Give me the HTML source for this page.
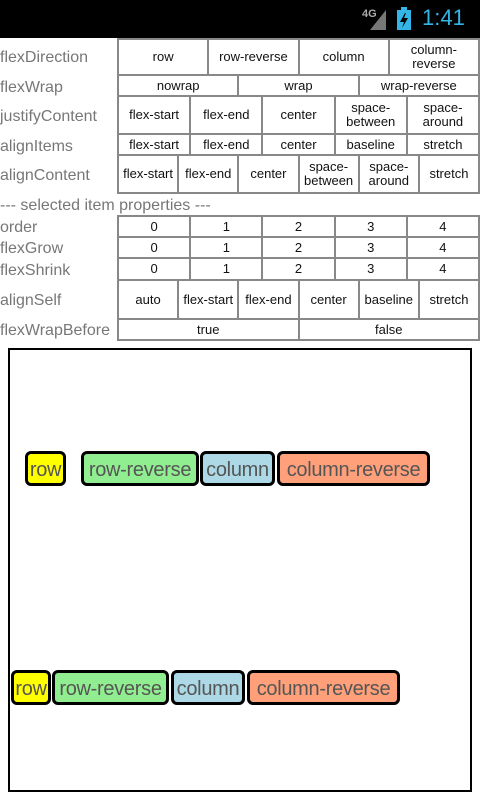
<!DOCTYPE html>
<html><head><meta charset="utf-8"><style>
*{margin:0;padding:0;box-sizing:border-box}
body{width:480px;height:800px;background:#fff;position:relative;overflow:hidden;font-family:"Liberation Sans",sans-serif}
.bar{position:absolute;left:0;top:0;width:480px;height:38px;background:#000}
.lbl{position:absolute;left:0;font-size:16px;color:#777;line-height:20px}
.row{position:absolute;left:117px;width:363px;background:#888;padding:2px;display:flex;gap:2px}
.row div{flex:1;background:#fff;display:flex;align-items:center;justify-content:center;text-align:center;font-size:13px;line-height:14px;color:#111}
.box{position:absolute;left:8px;top:348px;width:464px;height:444px;border:2px solid #000}
.it{position:absolute;height:35px;border:3px solid #000;border-radius:6px;font-size:20px;line-height:32px;color:#555;white-space:nowrap;overflow:hidden;text-align:center;letter-spacing:-0.3px}
</style></head><body>
<div class="bar">
<div style="position:absolute;left:362px;top:8px;color:#aaa;font-size:11px;font-weight:bold">4G</div>
<svg style="position:absolute;left:370px;top:10px" width="16" height="20"><polygon points="16,0 16,20 0,20" fill="#777"/></svg>
<svg style="position:absolute;left:397px;top:7px" width="14" height="23"><rect x="4" y="0" width="6" height="3" fill="#33b5e5"/><rect x="0" y="3" width="14" height="20" fill="#33b5e5"/><polygon points="8,6 3,15 7,15 5,21 11,11 7,11 9,6" fill="#000"/></svg>
<div style="position:absolute;left:422px;top:5px;color:#33b5e5;font-size:22px">1:41</div>
</div>

<div class="lbl" style="top:48px">flexDirection</div>
<div class="row" style="top:38px;height:38px"><div>row</div><div>row-reverse</div><div>column</div><div>column-<br>reverse</div></div>
<div class="lbl" style="top:78px">flexWrap</div>
<div class="row" style="top:74px;height:23px"><div>nowrap</div><div>wrap</div><div>wrap-reverse</div></div>
<div class="lbl" style="top:107px">justifyContent</div>
<div class="row" style="top:95px;height:40px"><div>flex-start</div><div>flex-end</div><div>center</div><div>space-<br>between</div><div>space-<br>around</div></div>
<div class="lbl" style="top:137px">alignItems</div>
<div class="row" style="top:133px;height:23px"><div>flex-start</div><div>flex-end</div><div>center</div><div>baseline</div><div>stretch</div></div>
<div class="lbl" style="top:166px">alignContent</div>
<div class="row" style="top:154px;height:40px"><div>flex-start</div><div>flex-end</div><div>center</div><div>space-<br>between</div><div>space-<br>around</div><div>stretch</div></div>
<div class="lbl" style="top:196px">--- selected item properties ---</div>
<div class="lbl" style="top:218px">order</div>
<div class="row" style="top:215px;height:23px"><div>0</div><div>1</div><div>2</div><div>3</div><div>4</div></div>
<div class="lbl" style="top:239px">flexGrow</div>
<div class="row" style="top:236px;height:23px"><div>0</div><div>1</div><div>2</div><div>3</div><div>4</div></div>
<div class="lbl" style="top:261px">flexShrink</div>
<div class="row" style="top:257px;height:24px"><div>0</div><div>1</div><div>2</div><div>3</div><div>4</div></div>
<div class="lbl" style="top:291px">alignSelf</div>
<div class="row" style="top:279px;height:41px"><div>auto</div><div>flex-start</div><div>flex-end</div><div>center</div><div>baseline</div><div>stretch</div></div>
<div class="lbl" style="top:321px">flexWrapBefore</div>
<div class="row" style="top:318px;height:23px"><div>true</div><div>false</div></div>

<div class="box"></div>
<div class="it" style="left:25px;top:451px;width:41px;background:#ffff00">row</div>
<div class="it" style="left:81px;top:451px;width:118px;background:#90ee90">row-reverse</div>
<div class="it" style="left:200px;top:451px;width:75px;background:#add8e6">column</div>
<div class="it" style="left:277px;top:451px;width:153px;background:#ffa07a">column-reverse</div>
<div class="it" style="left:11px;top:670px;width:40px;background:#ffff00">row</div>
<div class="it" style="left:52px;top:670px;width:117px;background:#90ee90">row-reverse</div>
<div class="it" style="left:171px;top:670px;width:74px;background:#add8e6">column</div>
<div class="it" style="left:247px;top:670px;width:153px;background:#ffa07a">column-reverse</div>
</body></html>
